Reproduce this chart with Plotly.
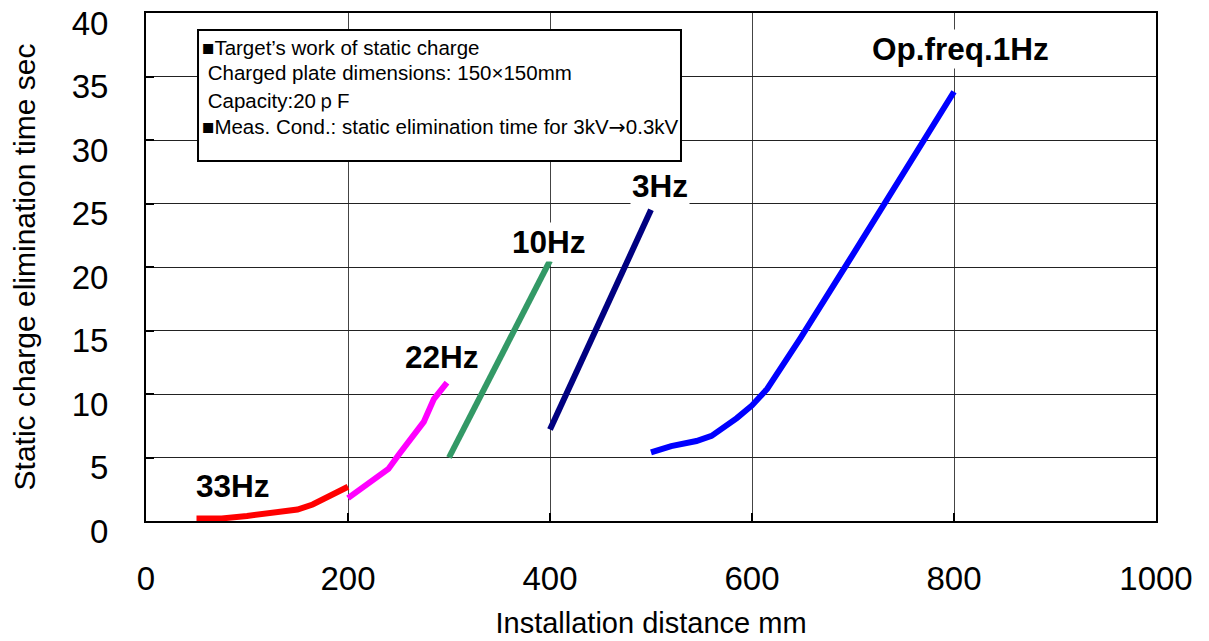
import plotly.graph_objects as go

# Installation distance (mm) vs static charge elimination time (sec)
x_33hz = [50, 75, 100, 125, 150, 165, 180, 200]
y_33hz = [0.2, 0.2, 0.4, 0.6, 0.9, 1.3, 1.9, 2.7]

x_22hz = [200, 240, 250, 275, 285, 298]
y_22hz = [1.8, 4.1, 5.2, 7.8, 9.6, 10.9]

x_10hz = [300, 400]
y_10hz = [5.0, 20.5]

x_3hz = [400, 500]
y_3hz = [7.2, 24.5]

x_1hz = [500, 520, 545, 560, 585, 600, 615, 630, 648, 700, 750, 800]
y_1hz = [5.4, 5.9, 6.3, 6.7, 8.1, 9.1, 10.4, 12.2, 14.4, 21.0, 27.4, 33.8]

series = [
    ('33Hz', x_33hz, y_33hz, '#FF0000'),
    ('22Hz', x_22hz, y_22hz, '#FF00FF'),
    ('10Hz', x_10hz, y_10hz, '#339966'),
    ('3Hz', x_3hz, y_3hz, '#000080'),
    ('Op.freq.1Hz', x_1hz, y_1hz, '#0000FF'),
]

# label text and anchor point (data coords)
label_text = ['33Hz', '22Hz', '10Hz', '3Hz', 'Op.freq.1Hz']
label_x = [86, 293, 399, 509, 806]
label_y = [2.75, 12.9, 22.0, 26.4, 37.2]

x_ticks = [0, 200, 400, 600, 800, 1000]
y_ticks = [0, 5, 10, 15, 20, 25, 30, 35, 40]

FONT = 'Liberation Sans, Arial, Helvetica, sans-serif'
ARROW = '<span style="font-family:DejaVu Sans">→</span>'

fig = go.Figure()
for name, xs, ys, color in series:
    fig.add_trace(go.Scatter(
        x=xs, y=ys, mode='lines', name=name,
        line=dict(color=color, width=6),
        hoverinfo='skip'
    ))

for txt, lx, ly in zip(label_text, label_x, label_y):
    fig.add_annotation(
        x=lx, y=ly, text=f'<b>{txt}</b>', showarrow=False,
        font=dict(family=FONT, size=31.5, color='black'),
        bgcolor='white', borderpad=1
    )

# condition box
fig.add_shape(
    type='rect', xref='paper', yref='paper',
    x0=0.0515, x1=0.5297, y0=0.7087, y1=0.9665,
    line=dict(color='black', width=2), fillcolor='white', layer='above'
)
box_lines = [
    '■Target’s work of static charge',
    ' Charged plate dimensions: 150×150mm',
    ' Capacity:20ｐF',
    '■Meas. Cond.: static elimination time for 3kV' + ARROW + '0.3kV',
]
box_y = [0.933, 0.882, 0.827, 0.776]
for line, ly in zip(box_lines, box_y):
    fig.add_annotation(
        xref='paper', yref='paper', x=0.053, y=ly,
        xanchor='left', yanchor='middle', align='left', showarrow=False,
        text=line,
        font=dict(family=FONT, size=20.5, color='black')
    )

# page body has an 8px margin, so the figure is 8px smaller and margins shifted
fig.update_layout(
    width=1201, height=633,
    margin=dict(l=138, r=53, t=5, b=120),
    paper_bgcolor='white', plot_bgcolor='white',
    showlegend=False,
    font=dict(family=FONT, color='black'),
    xaxis=dict(
        range=[0, 1000], tickvals=x_ticks,
        showgrid=True, gridcolor='#444444', gridwidth=1,
        zeroline=False, automargin=False,
        showline=True, linecolor='black', linewidth=2, mirror=True,
        ticks='inside', ticklen=8, tickwidth=2, tickcolor='black',
        ticklabelstandoff=27, ticklabeloverflow='allow',
        tickfont=dict(family=FONT, size=33),
        title=dict(text='Installation distance mm', font=dict(family=FONT, size=29), standoff=17)
    ),
    yaxis=dict(
        range=[0, 40], tickvals=y_ticks,
        showgrid=True, gridcolor='#222222', gridwidth=1,
        zeroline=False, automargin=False,
        showline=True, linecolor='black', linewidth=2, mirror=True,
        ticks='inside', ticklen=8, tickwidth=2, tickcolor='black',
        ticklabelstandoff=29, ticklabeloverflow='allow', ticklabelshift=10,
        tickfont=dict(family=FONT, size=33),
        title=dict(text='Static charge elimination time sec', font=dict(family=FONT, size=30), standoff=30)
    ),
)

fig.write_html('out.html')
